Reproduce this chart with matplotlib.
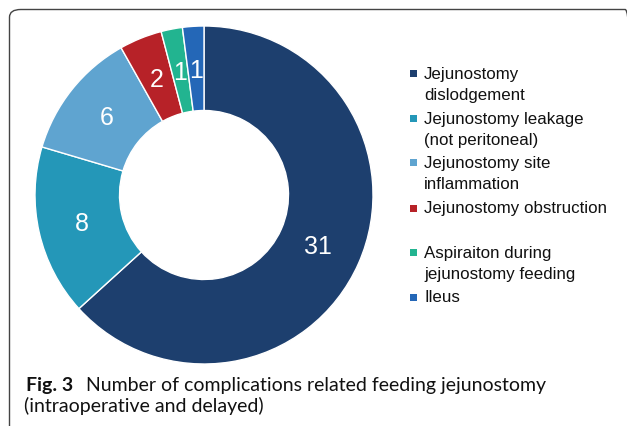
import numpy as np
import matplotlib.pyplot as plt
from matplotlib.patches import FancyBboxPatch, Rectangle

categories = ['Jejunostomy\ndislodgement', 'Jejunostomy leakage\n(not peritoneal)',
              'Jejunostomy site\ninflammation', 'Jejunostomy obstruction',
              'Aspiraiton during\njejunostomy feeding', 'Ileus']
counts = [31, 8, 6, 2, 1, 1]
colors = ['#1d3f6e', '#2497b8', '#5fa4d0', '#b72228', '#22b490', '#2467b7']

W, H = 627, 427
fig = plt.figure(figsize=(W / 100, H / 100), dpi=100)

# outer frame (rounded, cut off at right and bottom)
frame = FancyBboxPatch((9.5 / W, -0.2), 1.0, (H - 10.5) / H + 0.2,
                       boxstyle='round,pad=0,rounding_size=0.018',
                       transform=fig.transFigure, fill=False,
                       edgecolor='#444444', linewidth=1.0)
fig.patches.append(frame)

# donut
cx, cy, r = 204, 196, 169
ax = fig.add_axes([(cx - r - 2) / W, 1 - (cy + r + 2) / H, (2 * r + 4) / W, (2 * r + 4) / H])
wedges, texts = ax.pie(counts, colors=colors, startangle=90, counterclock=False,
                       radius=1, wedgeprops=dict(width=0.5, edgecolor='white', linewidth=1))
for w, n in zip(wedges, counts):
    ang = np.deg2rad((w.theta1 + w.theta2) / 2)
    ax.text(0.74 * np.cos(ang), 0.74 * np.sin(ang), str(n), color='white',
            fontsize=18, ha='center', va='center', family='Liberation Sans')
lim = (r + 2) / r
ax.set_xlim(-lim, lim)
ax.set_ylim(-lim, lim)
ax.set_aspect('equal')
ax.axis('off')

# legend
leg_y = [85, 130, 174, 209, 264, 298]
for lab, col, y in zip(categories, colors, leg_y):
    nl = lab.count('\n')
    fig.patches.append(Rectangle((410 / W, 1 - (y - nl * 10.5 + 3.5) / H), 7 / W, 7 / H,
                                 transform=fig.transFigure, facecolor=col, edgecolor='none'))
    fig.text(424 / W, 1 - y / H, lab, fontsize=12.2, family='Liberation Sans',
             va='center', ha='left', color='#111111', linespacing=1.42)

# caption
fig.text(26 / W, 1 - 391 / H, 'Fig. 3', fontsize=14, fontweight='bold',
         family='Lato', va='baseline', color='#111111')
fig.text(86 / W, 1 - 391 / H, 'Number of complications related feeding jejunostomy',
         fontsize=14, family='Lato', va='baseline', color='#111111')
fig.text(24 / W, 1 - 412 / H, '(intraoperative and delayed)',
         fontsize=14, family='Lato', va='baseline', color='#111111')

fig.savefig('out.png', dpi=100)
